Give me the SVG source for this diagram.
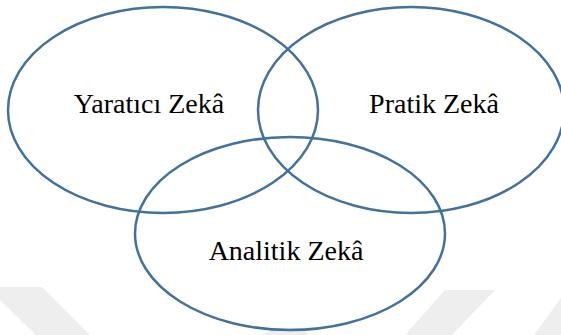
<svg xmlns="http://www.w3.org/2000/svg" width="561" height="335" viewBox="0 0 561 335">
  <style>
    .circle { fill: none; stroke: #41719C; stroke-width: 2.5; }
    .label { font-family: "Liberation Serif", "Times New Roman", serif; font-size: 28px; fill: #000; text-anchor: middle; }
    .wm { fill: #EEEEEE; }
  </style>
  <rect width="561" height="335" fill="#ffffff"/>
  <g id="watermark">
    <polygon class="wm" points="0,287 42,287 90,335 36,335 0,300"/>
    <polygon class="wm" points="445,290 495,290 452,335 405,335"/>
    <polygon class="wm" points="561,298 561,335 534,335"/>
    <polygon class="wm" points="262,335 275,328 300,328 310,335"/>
  </g>
  <g id="yaratici">
    <ellipse class="circle" cx="163" cy="110" rx="155" ry="103"/>
    <text class="label" x="149" y="113">Yaratıcı Zekâ</text>
  </g>
  <g id="pratik">
    <ellipse class="circle" cx="411" cy="110" rx="153" ry="103"/>
    <text class="label" x="434" y="113">Pratik Zekâ</text>
  </g>
  <g id="analitik">
    <ellipse class="circle" cx="290" cy="233.5" rx="155" ry="96.5"/>
    <text class="label" x="286" y="260">Analitik Zekâ</text>
  </g>
  <g id="connectors"/>
</svg>
